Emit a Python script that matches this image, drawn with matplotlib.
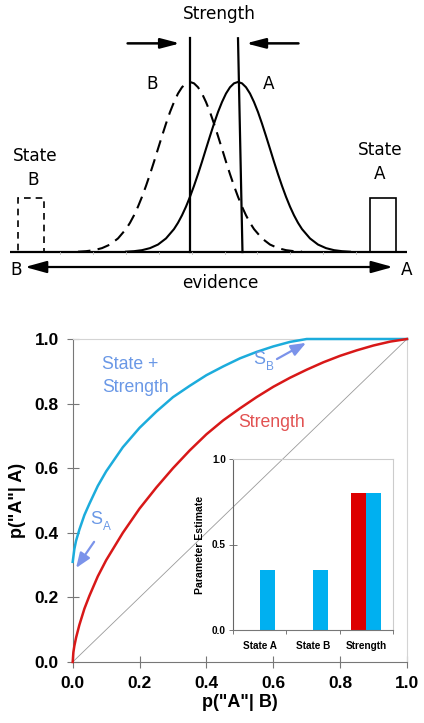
import numpy as np
import matplotlib
matplotlib.use("Agg")
import matplotlib.pyplot as plt
from matplotlib.patches import Rectangle

plt.rcParams['font.family'] = ['Liberation Sans', 'DejaVu Sans']

# ---- top panel data (evidence in sd units, density scaled so the peak is 1)
dist_offsets = [-3.5, -3.25, -3.0, -2.75, -2.5, -2.25, -2.0, -1.875, -1.75, -1.625, -1.5, -1.375, -1.25,
                -1.125, -1.0, -0.875, -0.75, -0.625, -0.5, -0.375, -0.25, -0.125, 0.0,
                0.125, 0.25, 0.375, 0.5, 0.625, 0.75, 0.875, 1.0, 1.125, 1.25, 1.375, 1.5,
                1.625, 1.75, 1.875, 2.0, 2.25, 2.5, 2.75, 3.0, 3.25, 3.5]
dist_heights = [0.002, 0.005, 0.011, 0.023, 0.044, 0.080, 0.135, 0.172, 0.216, 0.267, 0.325, 0.389, 0.458,
                0.531, 0.607, 0.682, 0.755, 0.823, 0.882, 0.932, 0.969, 0.992, 1.000,
                0.992, 0.969, 0.932, 0.882, 0.823, 0.755, 0.682, 0.607, 0.531, 0.458, 0.389, 0.325,
                0.267, 0.216, 0.172, 0.135, 0.080, 0.044, 0.023, 0.011, 0.005, 0.002]
mean_B = -0.75
mean_A = 0.75
state_B = -5.72
state_A = 5.28
state_width = 0.79
state_height = 0.318
crit_B = [-0.75, -0.75]   # bottom, top
crit_A = [0.89, 0.75]
evidence_range = [-6.375, 6.03]
evidence_ticks = [-4.81, -3.78, -2.75, -1.72, -0.69, 0.34, 1.34, 2.37, 3.4, 4.44]

# ---- ROC data
fa_both = [0.0, 0.005, 0.01, 0.02, 0.035, 0.05, 0.075, 0.1, 0.15, 0.2, 0.25, 0.3, 0.35,
           0.4, 0.45, 0.5, 0.55, 0.6, 0.65, 0.7, 1.0]
hit_both = [0.31, 0.35, 0.375, 0.41, 0.455, 0.49, 0.545, 0.59, 0.665, 0.725, 0.775, 0.82, 0.855,
            0.888, 0.915, 0.94, 0.96, 0.977, 0.991, 1.0, 1.0]
fa_strength = [0.0, 0.002, 0.005, 0.01, 0.02, 0.035, 0.05, 0.075, 0.1, 0.15, 0.2, 0.25, 0.3, 0.35,
               0.4, 0.45, 0.5, 0.55, 0.6, 0.65, 0.7, 0.75, 0.8, 0.85, 0.9, 0.95, 1.0]
hit_strength = [0.0, 0.03, 0.05, 0.075, 0.115, 0.165, 0.205, 0.265, 0.315, 0.4, 0.475, 0.54, 0.6, 0.655,
                0.705, 0.748, 0.785, 0.82, 0.852, 0.88, 0.905, 0.928, 0.948, 0.965, 0.98, 0.992, 1.0]

# ---- inset bar data
params = ["State A", "State B", "Strength"]
est_strength_model = [0.0, 0.0, 0.80]
est_both_model = [0.35, 0.35, 0.80]

BLUE_LINE = '#1CACDC'
RED_LINE = '#D81818'
BLUE_TEXT = '#6A98E6'
ARROW_BLUE = '#7B93EA'
RED_TEXT = '#E25252'

fig = plt.figure(figsize=(4.24, 7.23), dpi=100)

# ================= top diagram
ax0 = fig.add_axes([0, 1 - 300 / 723, 1, 300 / 723])
ax0.set_xlim(-6.6875, 6.5625)
ax0.set_ylim(-0.282, 1.482)
ax0.axis('off')

offs = np.array(dist_offsets)
ax0.plot(offs + mean_B, dist_heights, color='k', lw=1.5, ls=(0, (6, 3.5)))
ax0.plot(offs + mean_A, dist_heights, color='k', lw=1.5)
ax0.plot(evidence_range, [0, 0], color='k', lw=1.6, solid_capstyle='butt')
for t in evidence_ticks:
    ax0.plot([t, t], [0, -0.012], color='#bbbbbb', lw=0.6)

ax0.plot(crit_B, [0, 1.257], color='k', lw=1.6)
ax0.plot(crit_A, [0, 1.257], color='k', lw=1.6)

ax0.add_patch(Rectangle((state_B - state_width / 2, 0), state_width, state_height,
                        fill=False, ec='k', lw=1.2, ls=(0, (4, 3))))
ax0.add_patch(Rectangle((state_A - state_width / 2, 0), state_width, state_height,
                        fill=False, ec='k', lw=1.2))

arr = dict(arrowstyle='-|>,head_length=1.15,head_width=0.3', color='k', lw=1.8,
           shrinkA=0, shrinkB=0, mutation_scale=10)
ax0.annotate('', xy=(-1.06, 1.227), xytext=(-2.7, 1.227), arrowprops=arr)
ax0.annotate('', xy=(1.0, 1.227), xytext=(2.64, 1.227), arrowprops=arr)
ax0.annotate('', xy=(5.59, -0.088), xytext=(-5.906, -0.088),
             arrowprops=dict(arrowstyle='<|-|>,head_length=1.3,head_width=0.36', color='k', lw=1.6,
                             shrinkA=0, shrinkB=0, mutation_scale=10))

tk = dict(family='DejaVu Sans', fontsize=12.2, color='k', ha='center', va='baseline')
ax0.text(0.16, 1.371, "Strength", **tk)
ax0.text(-1.94, 0.959, "B", **tk)
ax0.text(1.72, 0.959, "A", **tk)
ax0.text(-5.6, 0.537, "State", **tk)
ax0.text(-5.66, 0.394, "B", **tk)
ax0.text(5.19, 0.571, "State", **tk)
ax0.text(5.19, 0.429, "A", **tk)
ax0.text(-6.17, -0.135, "B", **tk)
ax0.text(6.02, -0.135, "A", **tk)
ax0.text(0.19, -0.212, "evidence", **tk)

# ================= ROC panel
ax = fig.add_axes([72.7 / 424, 1 - 662 / 723, 334.3 / 424, 323 / 723])
ax.plot([0, 1], [0, 1], color='#9a9a9a', lw=0.6, zorder=1)
ax.plot(fa_both, hit_both, color=BLUE_LINE, lw=1.8, clip_on=False, zorder=3)
ax.plot(fa_strength, hit_strength, color=RED_LINE, lw=1.8, clip_on=False, zorder=3)
ax.set_xlim(0, 1)
ax.set_ylim(0, 1)
ticks = [0, 0.2, 0.4, 0.6, 0.8, 1.0]
ax.set_xticks(ticks)
ax.set_yticks(ticks)
ax.set_xticklabels(["%.1f" % t for t in ticks])
ax.set_yticklabels(["%.1f" % t for t in ticks])
ax.tick_params(direction='inout', length=8, width=0.8, color='#777777',
               labelsize=12.5, pad=6)
for lab in ax.get_xticklabels() + ax.get_yticklabels():
    lab.set_fontweight('bold')
ax.spines['left'].set_color('#777777')
ax.spines['bottom'].set_color('#777777')
ax.spines['top'].set_color('#d4d4d4')
ax.spines['right'].set_color('#d4d4d4')
for s in ax.spines.values():
    s.set_linewidth(0.8)
ax.set_xlabel('p("A"| B)', fontsize=13, fontweight='bold', labelpad=2)
ax.set_ylabel('p("A"| A)', fontsize=13, fontweight='bold', labelpad=6)

ax.text(0.088, 0.92, "State +", color=BLUE_TEXT, fontsize=12.7, va='center')
ax.text(0.088, 0.85, "Strength", color=BLUE_TEXT, fontsize=12.7, va='center')
ax.text(0.494, 0.743, "Strength", color=RED_TEXT, fontsize=12.7, va='center')

ax.text(0.54, 0.935, "S", color=BLUE_TEXT, fontsize=13, va='center')
ax.text(0.578, 0.912, "B", color=BLUE_TEXT, fontsize=8.5, va='center')
ax.text(0.052, 0.44, "S", color=BLUE_TEXT, fontsize=13, va='center')
ax.text(0.09, 0.417, "A", color=BLUE_TEXT, fontsize=8.5, va='center')
sarr = dict(arrowstyle='-|>,head_length=0.9,head_width=0.35', color=ARROW_BLUE, lw=1.6,
            shrinkA=0, shrinkB=0, mutation_scale=10)
ax.annotate('', xy=(0.698, 0.988), xytext=(0.611, 0.938), arrowprops=sarr)
ax.annotate('', xy=(0.010, 0.291), xytext=(0.064, 0.372), arrowprops=sarr)

# ================= inset
axin = fig.add_axes([233 / 424, 1 - 630 / 723, 160 / 424, 171 / 723])
axin.set_facecolor('none')
pos = np.arange(len(params))
axin.bar(pos - 0.14, est_strength_model, width=0.28, color='#DD0000')
axin.bar(pos + 0.14, est_both_model, width=0.28, color='#00B0F0')
axin.set_xlim(-0.5, 2.5)
axin.set_ylim(0, 1)
axin.set_yticks([0, 0.5, 1.0])
axin.set_yticklabels(["0.0", "0.5", "1.0"])
axin.set_xticks([-0.5, 0.5, 1.5, 2.5])
axin.set_xticklabels([])
axin.set_xticks(pos, minor=True)
axin.set_xticklabels(params, minor=True)
axin.tick_params(axis='x', which='major', direction='out', length=3, width=0.7, color='#777777')
axin.tick_params(axis='x', which='minor', length=0, pad=8, labelsize=7.2)
axin.tick_params(axis='y', direction='inout', length=6, width=0.7, color='#777777', labelsize=7.2, pad=2)
for lab in axin.get_xticklabels(minor=True) + axin.get_yticklabels():
    lab.set_fontweight('bold')
axin.spines['left'].set_color('#666666')
axin.spines['bottom'].set_color('#777777')
axin.spines['top'].set_color('#cccccc')
axin.spines['right'].set_color('#cccccc')
for s in axin.spines.values():
    s.set_linewidth(0.8)
axin.set_ylabel("Parameter Estimate", fontsize=7.6, fontweight='bold', labelpad=5)

fig.savefig("out.png", dpi=100)
